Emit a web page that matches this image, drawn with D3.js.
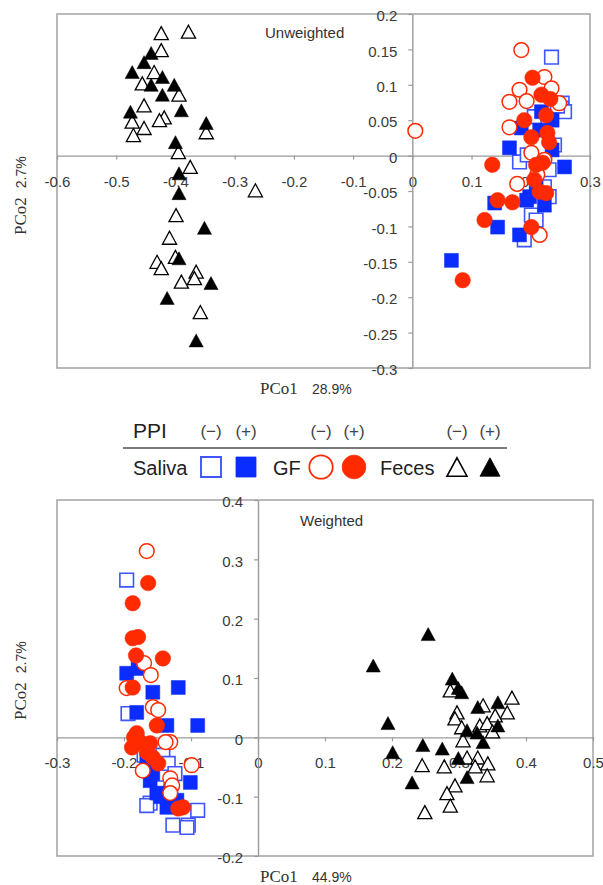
<!DOCTYPE html>
<html>
<head>
<meta charset="utf-8">
<script src="https://cdn.jsdelivr.net/npm/d3@7"></script>
<style>
  body { margin: 0; background: #fff; }
  text { font-family: "Liberation Sans", Arial, sans-serif; }
</style>
</head>
<body>
<div id="chart"></div>
<script>
// ---- Unweighted PCoA (top) ----
const unwSalivaNeg = [[0.235,0.139],[0.253,0.074],[0.252,0.067],[0.257,0.062],[0.181,-0.009],[0.231,-0.020],
  [0.231,-0.058],[0.201,-0.084],[0.209,-0.091],[0.189,-0.119],[0.240,0.015],[0.194,0.001],[0.223,-0.044],
  [0.245,0.070],[0.206,0.055]];
const unwSalivaPos = [[0.218,0.062],[0.184,0.039],[0.236,0.050],[0.164,0.011],[0.236,0.008],[0.257,-0.016],
  [0.209,-0.039],[0.198,-0.058],[0.193,-0.063],[0.139,-0.067],[0.144,-0.101],[0.181,-0.112],[0.066,-0.148],
  [0.215,0.036],[0.223,-0.070]];
const unwGfNeg = [[0.005,0.035],[0.184,0.149],[0.223,0.111],[0.181,0.093],[0.235,0.095],[0.164,0.076],
  [0.193,0.077],[0.164,0.040],[0.248,0.074],[0.201,0.004],[0.177,-0.040],[0.215,-0.112],[0.211,-0.027],[0.223,-0.006]];
const unwGfPos = [[0.203,0.110],[0.218,0.086],[0.233,0.080],[0.226,0.057],[0.189,0.050],[0.201,0.026],
  [0.228,0.032],[0.231,0.019],[0.209,-0.013],[0.220,-0.010],[0.135,-0.013],[0.215,-0.051],[0.226,-0.053],
  [0.144,-0.063],[0.169,-0.066],[0.122,-0.091],[0.201,-0.101],[0.085,-0.176],[0.206,-0.034]];
const unwFecesNeg = [[-0.424,0.173],[-0.378,0.175],[-0.424,0.149],[-0.436,0.118],[-0.456,0.102],[-0.394,0.086],
  [-0.453,0.071],[-0.473,0.048],[-0.419,0.054],[-0.427,0.050],[-0.453,0.039],[-0.471,0.029],[-0.348,0.033],
  [-0.395,0.005],[-0.375,-0.016],[-0.265,-0.049],[-0.399,-0.084],[-0.410,-0.116],[-0.400,-0.143],
  [-0.431,-0.150],[-0.424,-0.159],[-0.365,-0.164],[-0.368,-0.173],[-0.390,-0.178],[-0.358,-0.221]];
const unwFecesPos = [[-0.441,0.145],[-0.473,0.118],[-0.453,0.132],[-0.422,0.111],[-0.402,0.100],[-0.441,0.100],
  [-0.422,0.086],[-0.390,0.064],[-0.476,0.062],[-0.348,0.046],[-0.400,0.019],[-0.394,-0.025],[-0.394,-0.053],
  [-0.351,-0.102],[-0.394,-0.145],[-0.340,-0.180],[-0.414,-0.201],[-0.365,-0.261]];

// ---- Weighted PCoA (bottom) ----
const wSalivaNeg = [[-0.196,0.265],[-0.194,0.040],[-0.142,-0.030],[-0.134,-0.044],[-0.124,-0.061],
  [-0.161,-0.111],[-0.127,-0.148],[-0.104,-0.148],[-0.090,-0.123],[-0.166,-0.115],[-0.106,-0.152],
  [-0.170,-0.030],[-0.150,-0.085]];
const wSalivaPos = [[-0.196,0.108],[-0.179,0.116],[-0.157,0.076],[-0.119,0.084],[-0.181,0.042],[-0.136,0.020],
  [-0.090,0.020],[-0.161,-0.073],[-0.101,-0.076],[-0.151,-0.094],[-0.136,-0.118],[-0.121,-0.106],
  [-0.166,-0.039],[-0.157,-0.061],[-0.145,-0.100],[-0.130,-0.090]];
const wGfNeg = [[-0.166,0.314],[-0.170,0.125],[-0.160,0.105],[-0.196,0.083],[-0.157,0.051],[-0.149,0.046],
  [-0.131,-0.008],[-0.138,-0.008],[-0.172,-0.056],[-0.099,-0.047],[-0.131,-0.069],[-0.128,-0.081],[-0.131,-0.094]];
const wGfPos = [[-0.164,0.260],[-0.187,0.226],[-0.187,0.167],[-0.179,0.169],[-0.182,0.138],[-0.142,0.133],
  [-0.187,0.084],[-0.151,0.020],[-0.181,0.007],[-0.188,-0.017],[-0.176,-0.008],[-0.161,-0.010],
  [-0.166,-0.025],[-0.157,-0.034],[-0.149,-0.044],[-0.119,-0.120],[-0.112,-0.118],[-0.185,0.000]];
const wFecesNeg = [[0.287,0.079],[0.379,0.067],[0.336,0.054],[0.297,0.042],[0.294,0.032],[0.372,0.042],
  [0.354,0.037],[0.304,0.017],[0.331,0.020],[0.342,0.024],[0.306,-0.005],[0.312,-0.034],[0.245,-0.047],
  [0.278,-0.049],[0.328,-0.034],[0.343,-0.044],[0.324,-0.049],[0.342,-0.064],[0.294,-0.081],[0.282,-0.094],
  [0.287,-0.115],[0.249,-0.126],[0.350,0.010]];
const wFecesPos = [[0.254,0.174],[0.172,0.121],[0.290,0.099],[0.299,0.083],[0.304,0.076],[0.358,0.059],
  [0.328,0.051],[0.194,0.024],[0.358,0.020],[0.312,0.012],[0.327,0.008],[0.336,-0.008],[0.201,-0.025],
  [0.246,-0.013],[0.275,-0.019],[0.299,-0.035],[0.312,-0.067],[0.230,-0.076]];

// tick values
const unwXTicks = [-0.6,-0.5,-0.4,-0.3,-0.2,-0.1,0,0.1,0.2,0.3];
const unwYTicks = [0.2,0.15,0.1,0.05,0,-0.05,-0.1,-0.15,-0.2,-0.25,-0.3];
const wXTicks = [-0.3,-0.2,-0.1,0,0.1,0.2,0.3,0.4,0.5];
const wYTicks = [0.4,0.3,0.2,0.1,0,-0.1,-0.2];

// legend labels
const sampleTypes = ["Saliva", "GF", "Feces"];
const ppiLabels = ["(\u2212)", "(+)"];

const svg = d3.select("#chart").append("svg")
  .attr("width", 603)
  .attr("height", 885);

// custom triangle (a bit taller than equilateral, like the Excel marker)
const triangle = {
  draw(ctx, size) {
    const w = Math.sqrt(size), h = w * 0.92;
    ctx.moveTo(0, -h / 2);
    ctx.lineTo(w / 2, h / 2);
    ctx.lineTo(-w / 2, h / 2);
    ctx.closePath();
  }
};

const blue = "#0a2cff", red = "#ff2a00";
// marker styles in drawing order: saliva(-), saliva(+), GF(-), GF(+), feces(-), feces(+)
const markerStyles = [
  { type: d3.symbolSquare, size: 185, fill: "#fff", stroke: "#3f55ff", sw: 1.6 },
  { type: d3.symbolSquare, size: 195, fill: blue, stroke: blue, sw: 0.5 },
  { type: d3.symbolCircle, size: 170, fill: "#fff", stroke: red, sw: 1.5 },
  { type: d3.symbolCircle, size: 190, fill: red, stroke: red, sw: 0.5 },
  { type: triangle, size: 200, fill: "#fff", stroke: "#000", sw: 1.3 },
  { type: triangle, size: 200, fill: "#000", stroke: "#000", sw: 0.5 }
];

const fmt = d => String(d);

function drawPanel(cfg) {
  const g = svg.append("g");
  const x = d3.scaleLinear().domain(cfg.xDomain).range([cfg.left, cfg.right]);
  const y = d3.scaleLinear().domain(cfg.yDomain).range([cfg.bottom, cfg.top]);

  g.append("rect")
    .attr("x", cfg.left).attr("y", cfg.top)
    .attr("width", cfg.right - cfg.left).attr("height", cfg.bottom - cfg.top)
    .attr("fill", "none").attr("stroke", "#a8a8a8").attr("stroke-width", 1.6);

  const xAxis = g.append("g")
    .attr("transform", `translate(0,${y(0)})`)
    .call(d3.axisBottom(x).tickValues(cfg.xTicks).tickSize(4).tickSizeOuter(0)
      .tickPadding(cfg.xPad).tickFormat(fmt));
  const yAxis = g.append("g")
    .attr("transform", `translate(${x(0)},0)`)
    .call(d3.axisLeft(y).tickValues(cfg.yTicks).tickSize(4).tickSizeOuter(0)
      .tickPadding(11).tickFormat(fmt));

  [xAxis, yAxis].forEach(a => {
    a.select(".domain").attr("stroke", "#9a9a9a").attr("stroke-width", 1.4);
    a.selectAll(".tick line").attr("stroke", "#9a9a9a").attr("stroke-width", 1.2);
    a.selectAll(".tick text").attr("fill", "#3a3a3a")
      .style("font-size", "15px").style("font-family", "Liberation Sans, Arial, sans-serif");
  });
  yAxis.selectAll(".tick text").attr("dy", "0.45em");

  cfg.series.forEach((data, i) => {
    const st = markerStyles[i];
    g.append("g").selectAll("path")
      .data(data)
      .enter()
      .append("path")
      .attr("d", d3.symbol().type(st.type).size(st.size))
      .attr("transform", d => `translate(${x(d[0])},${y(d[1])})`)
      .attr("fill", st.fill)
      .attr("stroke", st.stroke)
      .attr("stroke-width", st.sw);
  });

  // panel title
  g.append("text")
    .attr("x", cfg.titleX).attr("y", cfg.titleY)
    .attr("fill", "#333").style("font-size", "15px")
    .text(cfg.title);

  // x title
  const xt = g.append("text").attr("x", 260).attr("y", cfg.xTitleY).attr("fill", "#333");
  xt.append("tspan").style("font-family", "Liberation Serif, Times New Roman, serif")
    .style("font-size", "17px").text("PCo1");
  xt.append("tspan").attr("x", 312).style("font-size", "14px").text(cfg.xPct);

  // y title (rotated)
  const yt = g.append("text")
    .attr("transform", `translate(26,${cfg.yTitleStart}) rotate(-90)`)
    .attr("fill", "#333");
  yt.append("tspan").style("font-family", "Liberation Serif, Times New Roman, serif")
    .style("font-size", "17px").text("PCo2");
  yt.append("tspan").attr("dx", 9).style("font-size", "14px").text(cfg.yPct);
}

drawPanel({
  left: 57, right: 590, top: 14, bottom: 368,
  xDomain: [-0.6, 0.3], yDomain: [-0.3, 0.2],
  xTicks: unwXTicks, yTicks: unwYTicks, xPad: 17,
  series: [unwSalivaNeg, unwSalivaPos, unwGfNeg, unwGfPos, unwFecesNeg, unwFecesPos],
  title: "Unweighted", titleX: 265, titleY: 38,
  xTitleY: 394, xPct: "28.9%",
  yTitleStart: 235, yPct: "2.7%"
});

drawPanel({
  left: 57, right: 593, top: 500, bottom: 856,
  xDomain: [-0.3, 0.5], yDomain: [-0.2, 0.4],
  xTicks: wXTicks, yTicks: wYTicks, xPad: 16,
  series: [wSalivaNeg, wSalivaPos, wGfNeg, wGfPos, wFecesNeg, wFecesPos],
  title: "Weighted", titleX: 300, titleY: 526,
  xTitleY: 882, xPct: "44.9%",
  yTitleStart: 720, yPct: "2.7%"
});

// ---- legend ----
const lg = svg.append("g");
lg.append("line")
  .attr("x1", 123).attr("x2", 507).attr("y1", 448).attr("y2", 448)
  .attr("stroke", "#7a7a7a").attr("stroke-width", 2);
lg.append("text").attr("x", 133).attr("y", 438)
  .attr("fill", "#222").style("font-size", "21px").text("PPI");

const labelX = [133, 273, 380];
const symX = [[211, 246], [321, 354], [457, 490]];
const legendSizes = [[400, 400], [430, 440], [400, 400]];
sampleTypes.forEach((name, i) => {
  lg.append("text").attr("x", labelX[i]).attr("y", 475)
    .attr("fill", "#222").style("font-size", "20px").text(name);
  ppiLabels.forEach((p, j) => {
    lg.append("text").attr("x", symX[i][j]).attr("y", 437)
      .attr("text-anchor", "middle").attr("fill", "#444")
      .style("font-size", "17px").text(p);
    const st = markerStyles[i * 2 + j];
    lg.append("path")
      .attr("d", d3.symbol().type(st.type).size(legendSizes[i][j]))
      .attr("transform", `translate(${symX[i][j]},467)`)
      .attr("fill", st.fill).attr("stroke", st.stroke)
      .attr("stroke-width", st.sw + 0.3);
  });
});
</script>
</body>
</html>
